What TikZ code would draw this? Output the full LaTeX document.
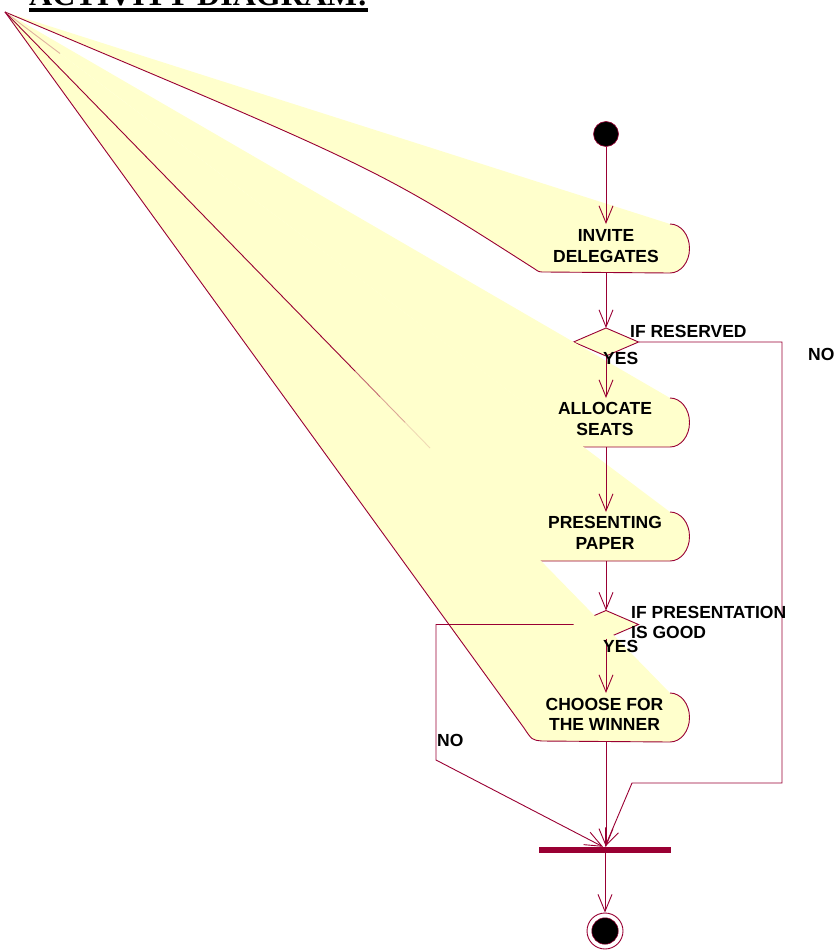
\documentclass[tikz,border=0pt]{standalone}
\usepackage{fontspec}
\setmainfont{Liberation Sans}
\newfontfamily\titlefont{Liberation Serif}
\usetikzlibrary{arrows.meta,shapes.geometric}
\definecolor{rose}{HTML}{990033}
\definecolor{actfill}{HTML}{FFFFCC}
\begin{document}
\begin{tikzpicture}[x=1pt,y=-1pt,
  edge/.style={draw=rose, line width=0.9pt},
  flow/.style={edge, -{Straight Barb[length=17pt,width=14pt,line width=0.9pt]}},
  lbl/.style={font=\bfseries\fontsize{17.5}{20.5}\selectfont, inner sep=0pt, text=black},
  actlabel/.style={lbl, align=center},
  decision/.style={diamond, draw=rose, fill=actfill, line width=0.9pt, minimum width=65pt, minimum height=28pt, inner sep=0pt, outer sep=0pt},
  capsarc/.style={start angle=90, end angle=-90, x radius=19.5pt, y radius=24.5pt},
]
\useasboundingbox (0,0) rectangle (834,950);
\clip (0,0) rectangle (834,950);

% title (cut off by the top edge, as in the reference)
\node[font=\titlefont\bfseries\fontsize{32}{36}\selectfont, anchor=base west, inner sep=0pt] (title) at (29,6) {ACTIVITY DIAGRAM:};
\fill[black] ([yshift=-2pt]title.base west) rectangle ([yshift=-6pt]title.base east);

\coordinate (apex) at (5,12);

% INVITE DELEGATES
\fill[actfill] (apex) -- (670,224) arc[capsarc] -- (545,272) .. controls (539,272) .. (534,268.5) .. controls (378,168.7) .. (apex) -- cycle;
\draw[edge] (670,224) arc[capsarc] -- (545,272) .. controls (539,272) .. (534,268.5) .. controls (378,168.7) .. (apex);

% decision 1
\node[decision] (d1) at (606,342) {};

% ALLOCATE SEATS
\fill[actfill] (apex) -- (670,398) arc[capsarc] -- (583,447) -- cycle;
\draw[edge] (670,398) arc[capsarc] -- (583,447);

% PRESENTING PAPER
\fill[actfill] (apex) -- (670,512) arc[capsarc] -- (540,561) -- cycle;
\draw[edge] (670,512) arc[capsarc] -- (540,561);
\draw[rose, line width=0.9pt, opacity=0.3] (apex) -- (60,53.5);

% decision 2
\node[decision] (d2) at (606,624.5) {};

% CHOOSE FOR THE WINNER
\fill[actfill] (apex) -- (670,693) arc[capsarc] -- (542,741) .. controls (532,740) .. (524,728) -- cycle;
\draw[edge] (670,693) arc[capsarc] -- (542,741) .. controls (532,740) .. (524,728) -- (apex);
\draw[rose, line width=0.9pt] (apex) -- (355,371);
\draw[rose, line width=0.9pt, opacity=0.6] (355,371) -- (380,396.7);
\draw[rose, line width=0.9pt, opacity=0.35] (380,396.7) -- (405,422.3);
\draw[rose, line width=0.9pt, opacity=0.15] (405,422.3) -- (430,448);

% anchor points of the activities
\coordinate (inviteT) at (606,224);
\coordinate (inviteB) at (606,272);
\coordinate (allocT) at (606,398);
\coordinate (allocB) at (606,447);
\coordinate (presT) at (606,512);
\coordinate (presB) at (606,561);
\coordinate (chooseT) at (606,693);
\coordinate (chooseB) at (606,741);

% start, bar, end
\node[circle, fill=black, draw=rose, line width=0.6pt, minimum size=25pt, inner sep=0pt] (start) at (606,134) {};
\node[fill=rose, minimum width=132pt, minimum height=6pt, inner sep=0pt] (bar) at (605,850) {};
\node[circle, fill=white, draw=rose, line width=0.9pt, minimum size=36pt, inner sep=0pt] (final) at (605,931) {};
\node[circle, fill=black, draw=rose, line width=0.5pt, minimum size=26.5pt, inner sep=0pt] (finaldot) at (final.center) {};

% waypoints
\coordinate (r1) at (782,342);
\coordinate (r2) at (782,783);
\coordinate (r3) at (632,783);
\coordinate (l1) at (436,624.5);
\coordinate (l2) at (436,760);

% transitions
\draw[flow] (start) -- (inviteT);
\draw[flow] (inviteB) -- (d1.north);
\draw[flow] (d1.south) -- (allocT);
\draw[flow] (allocB) -- (presT);
\draw[flow] (presB) -- (d2.north);
\draw[flow] (d2.south) -- (chooseT);
\draw[flow] (chooseB) -- (chooseB |- bar.north);
\draw[flow] (d1.east) -- (r1) -- (r2) -- (r3) -- (bar.north);
\draw[flow] (d2.west) -- (l1) -- (l2) -- ([xshift=-2pt]bar.north);
\draw[flow] (bar) -- (final);

% activity texts
\node[actlabel] (invite) at (606,246) {INVITE\\DELEGATES};
\node[actlabel] (alloc) at (605,419) {ALLOCATE\\SEATS};
\node[actlabel] (pres) at (605,533) {PRESENTING\\PAPER};
\node[actlabel] (choose) at (604.5,714.5) {CHOOSE FOR\\THE WINNER};

% guard labels
\node[lbl, anchor=base west] (ifres) at (630,337) {IF RESERVED};
\node[lbl, anchor=base west] (yes1) at (603,364) {YES};
\node[lbl, anchor=base west] (no1) at (808,360) {NO};
\node[lbl, anchor=west, align=left] (ifpres) at (631,622.4) {IF PRESENTATION\\IS GOOD};
\node[lbl, anchor=base west] (yes2) at (603,652) {YES};
\node[lbl, anchor=base west] (no2) at (437,746) {NO};
\end{tikzpicture}
\end{document}
